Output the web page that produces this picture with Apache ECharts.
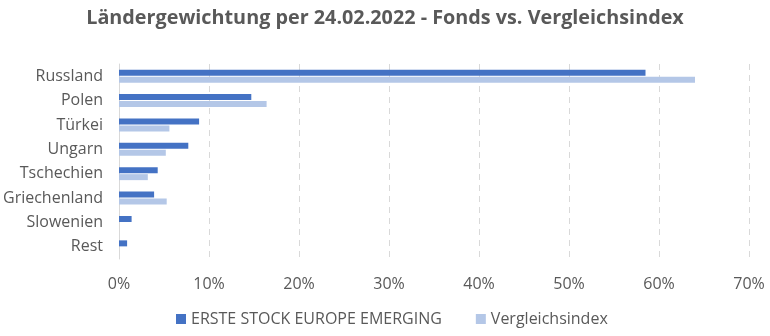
<!DOCTYPE html>
<html><head><meta charset="utf-8">
<script src="https://cdn.jsdelivr.net/npm/echarts@6/dist/echarts.min.js"></script>
<style>html,body{margin:0;padding:0;background:#fff}#c{width:770px;height:336px}</style>
</head><body><div id="c"></div>
<script>
const categories = ['Russland','Polen','Türkei','Ungarn','Tschechien','Griechenland','Slowenien','Rest'];
const fondsValues = [58.5, 14.7, 8.9, 7.7, 4.3, 3.9, 1.4, 0.9];
const indexValues = [64.0, 16.4, 5.6, 5.2, 3.2, 5.3, 0, 0];
const xTicks = [0,10,20,30,40,50,60,70];
const seriesNames = ['ERSTE STOCK EUROPE EMERGING','Vergleichsindex'];

const chart = echarts.init(document.getElementById('c'));
chart.setOption({
  animation:false,
  title:{text:'Ländergewichtung per 24.02.2022 - Fonds vs. Vergleichsindex',left:'center',top:3,
    textStyle:{fontFamily:'Open Sans',fontWeight:'bold',fontSize:19.8,color:'#595959'}},
  legend:{bottom:4,left:171,itemWidth:10,itemHeight:10,itemGap:34,icon:'rect',
    textStyle:{fontFamily:'Open Sans',fontSize:16,color:'#595959'}},
  grid:{left:119,right:21,top:64,bottom:77,containLabel:false},
  xAxis:{type:'value',min:xTicks[0],max:xTicks[xTicks.length-1],interval:10,
    axisLabel:{formatter:'{value}%',fontFamily:'Open Sans',fontSize:16,color:'#595959',margin:17},
    axisLine:{show:false},axisTick:{show:false},
    splitLine:{lineStyle:{type:[6,5],color:'#d9d9d9',width:1}}},
  yAxis:{type:'category',data:categories,inverse:true,
    axisLine:{lineStyle:{color:'#d9d9d9'}},axisTick:{show:false},
    axisLabel:{fontFamily:'Open Sans',fontSize:16,color:'#595959',margin:16}},
  series:[
    {name:seriesNames[0],type:'bar',data:fondsValues,barWidth:6,barGap:'15%',itemStyle:{color:'#4472C4'}},
    {name:seriesNames[1],type:'bar',data:indexValues,barWidth:6,itemStyle:{color:'#B4C7E7'}}
  ]
});
</script></body></html>
